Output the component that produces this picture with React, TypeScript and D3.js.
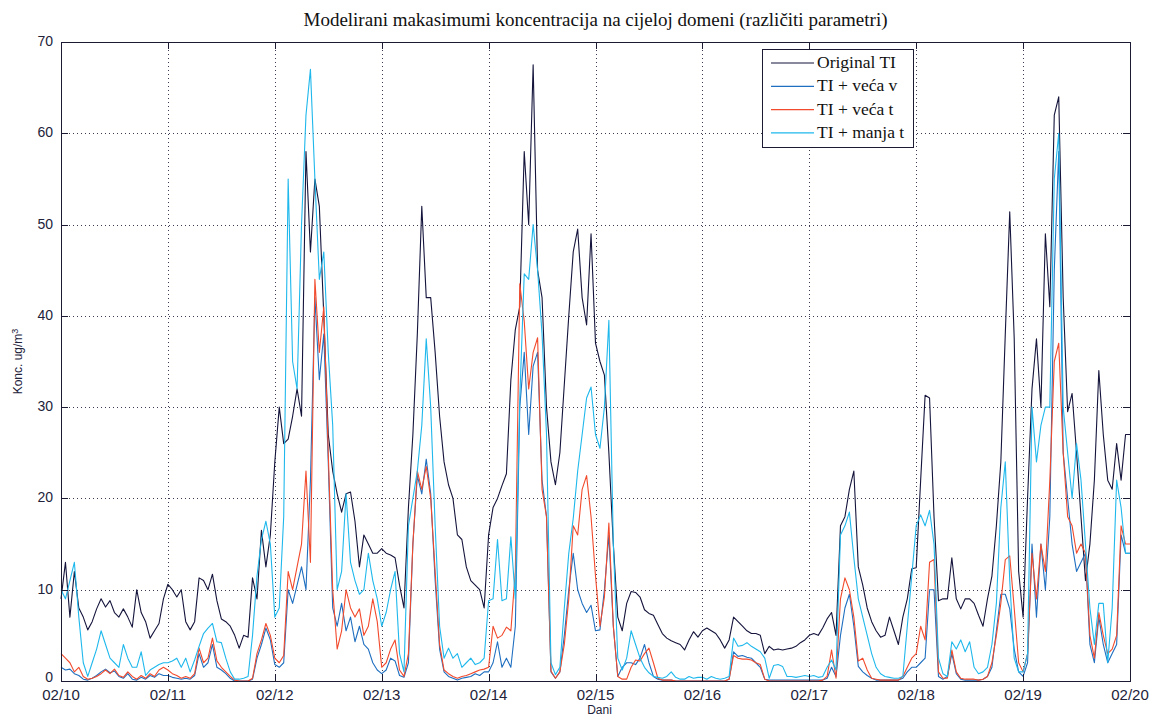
import React from "react";
import * as d3 from "d3";

const DAY_LABELS = ["02/10", "02/11", "02/12", "02/13", "02/14", "02/15", "02/16", "02/17", "02/18", "02/19", "02/20"];
const Y_TICKS = [0, 10, 20, 30, 40, 50, 60, 70];
const SERIES_NAMES = ["Original TI", "TI + veća v", "TI + veća t", "TI + manja t"];

// hourly maxima, 02/10 00h .. 02/20 00h
const ORIGINAL = [
  9, 13, 7, 12, 8, 7, 5.6, 6.5, 7.9, 9, 8.1, 8.8, 7.5, 7, 7.9, 7, 5.9, 10, 7.5, 6.5, 4.7, 5.5, 6.3, 9,
  10.6, 10, 9.2, 10, 6.5, 5.6, 6.5, 11.3, 11, 10, 11.7, 8.8, 6.8, 6.5, 6, 5, 3.6, 5, 4.8, 11.3, 9, 16.5, 12.5, 16,
  24, 30, 26, 26.5, 29, 32, 29, 58, 47, 55, 52, 40, 27, 23, 20.5, 18.5, 20.5, 20.7, 17.5, 12.5, 16, 15, 14, 14,
  14.5, 14, 13.8, 13.5, 10.5, 8, 19, 27, 38, 52, 42, 42, 36, 29, 24, 21.5, 20, 16, 15.5, 12.5, 11, 10.5, 10, 8,
  16, 19, 20, 21.4, 22.7, 33, 38.5, 41, 58, 50, 67.5, 45, 42, 30, 24, 21.5, 25, 32.5, 40, 47, 49.5, 42, 39, 49,
  37, 35, 33.5, 25, 15, 7, 5.5, 8.5, 9.8, 9.7, 9.2, 7.8, 7.4, 7.2, 6.2, 5.2, 4.7, 4.4, 4.2, 4, 3.4, 4.5, 5.4, 4.8,
  5.5, 5.8, 5.5, 5.2, 4.5, 3.6, 4.5, 7, 6.5, 6, 5.5, 5.2, 5.2, 5, 3, 3.8, 3.4, 3.5, 3.4, 3.5, 3.6, 3.8, 4.2, 4.5,
  5, 5.2, 5, 5.8, 6.8, 7.5, 5, 17, 18, 21, 23, 12.5, 10.5, 8, 6.5, 5.5, 4.8, 5, 7, 5.5, 4, 7, 9, 12.3,
  12.4, 22, 31.3, 31, 18, 8.8, 9, 9, 13.5, 9, 7.9, 9, 9, 8.5, 7.2, 6, 9, 11.5, 17, 24, 38, 51.4, 37.6, 12,
  7, 20, 32, 37.5, 30, 49, 41, 62, 64, 42, 29.5, 31.5, 25, 18, 11, 15, 22, 34, 27, 22, 21, 26, 22, 27,
  27,
];

const VECA_V = [
  1.5, 1.2, 1.3, 0.8, 0.6, 0.2, 0.1, 0.3, 0.6, 1, 1.3, 0.9, 1.1, 0.5, 0.3, 0.8, 0.2, 0.1, 0.4, 0.2, 0.6, 0.4, 0.8, 0.6,
  0.6, 0.4, 0.3, 0.2, 0.3, 0.2, 0.6, 3, 1.5, 2, 4, 1.5, 1.2, 0.8, 0.3, 0, 0, 0, 0, 0.2, 2.5, 4, 5.8, 4.5,
  1.8, 1.5, 2, 10, 8.5, 10.5, 12.5, 10, 22, 42, 33, 38, 24, 8, 6, 8.5, 5.5, 7, 4.3, 6, 4, 3.5, 2, 1.2,
  0.8, 1.2, 2.5, 2.2, 0.6, 0.4, 2, 15, 22.5, 20.5, 24.3, 20.5, 11, 3.5, 1, 0.5, 0.3, 0.1, 0.3, 0.4, 0.5, 0.8, 0.6, 1,
  1, 2, 4.3, 1.5, 2.5, 1.5, 6, 30, 36, 27, 34.5, 36, 22, 18, 1, 0.3, 1, 5, 10, 14, 10, 8.5, 7.5, 8.3,
  5.5, 5.6, 10, 16, 6, 0.5, 1.5, 2, 2, 1.8, 2.5, 4, 2, 0.5, 0.2, 0.1, 0.1, 0.1, 0, 0, 0, 0, 0, 0,
  0, 0, 0, 0, 0, 0, 0.2, 3.2, 2.7, 2.8, 2.6, 2.5, 2, 1.5, 0.2, 0.1, 0.1, 0.1, 0.1, 0.1, 0.1, 0.1, 0.1, 0.1,
  0.1, 0.1, 0.1, 0.1, 0.3, 1.5, 0.5, 5, 8, 9.5, 6, 1.6, 1, 0.6, 0.3, 0.1, 0.1, 0.1, 0.1, 0.1, 0.1, 0.3, 1, 1.5,
  1.5, 2, 2.5, 10, 10, 0.5, 0.2, 0.5, 3, 0.8, 0.2, 0.1, 0.1, 0.1, 0.1, 0.2, 0.5, 1.5, 5.5, 9.5, 9.5, 7.9, 3.5, 1,
  0.5, 2, 15, 7, 15, 10, 18, 45, 58, 25, 20, 15, 12, 13, 14, 4, 2, 7, 4, 2, 3, 4, 16, 14,
  14,
];

const VECA_T = [
  3, 2.5, 2, 1, 1.5, 0.5, 0.2, 0.3, 0.5, 0.8, 1.2, 0.8, 1.3, 0.6, 0.4, 1, 0.5, 0.2, 0.6, 0.3, 0.8, 0.5, 1.2, 1.5,
  1.2, 0.8, 0.6, 0.3, 0.5, 0.3, 0.8, 3.6, 2, 2.5, 4.7, 2.2, 1.5, 1, 0.5, 0.1, 0, 0, 0, 0.3, 3, 4.5, 6.3, 5,
  2.5, 2, 2.8, 12, 10, 12.5, 15, 23, 13, 44, 36, 41, 25, 10, 3.5, 5.5, 10, 8, 7, 7.9, 5, 6, 9, 6.5,
  1.5, 2, 3.5, 4.5, 1.2, 0.5, 3, 15, 23, 21, 23.5, 20, 12, 4, 1.2, 0.8, 0.5, 0.3, 0.5, 0.6, 0.8, 1, 1.2, 1.3,
  1.5, 6, 4.7, 5, 5.9, 5.5, 12, 43.5, 39.4, 32, 36, 37.6, 21, 18, 1.1, 0.3, 1, 4, 9, 17, 16, 21, 22.5, 18,
  11.5, 6, 9.2, 17.3, 6, 0.5, 0.2, 0.2, 1.5, 2.3, 2.2, 3, 3.6, 2, 0.3, 0.1, 0.1, 0.1, 0, 0, 0, 0, 0, 0,
  0, 0, 0, 0, 0, 0, 0.2, 2.8, 2.5, 2.4, 2.4, 2.3, 2, 1.8, 0.2, 0, 0, 0, 0, 0, 0, 0, 0, 0,
  0, 0, 0, 0.1, 0.5, 3.4, 0.3, 9, 11.3, 10, 7, 2.2, 2.5, 1.2, 0.3, 0.2, 0.1, 0.1, 0.1, 0.1, 0.1, 0.5, 1.5, 2.5,
  3, 6, 4.5, 13, 13.3, 1, 0.3, 0.3, 3.4, 1, 0.3, 0.2, 0.2, 0.2, 0.1, 0.2, 0.5, 2, 5, 8.5, 13.3, 13.7, 8, 2,
  1, 3, 14, 9, 15, 12, 22, 35, 37, 25, 18, 17, 14, 15, 14, 5, 2.5, 7.5, 5, 3, 3.5, 5, 17, 15,
  15,
];

const MANJA_T = [
  10, 9, 11, 13, 7, 2, 0.5, 2, 3.5, 5.5, 4, 2.5, 2, 1.5, 4, 2.5, 1.5, 1.5, 3.2, 0.6, 1.2, 1.5, 1.8, 2,
  2, 2.2, 2.5, 1.5, 2.5, 1, 2.3, 3.8, 5.2, 5.8, 6.3, 4.3, 4.2, 2.5, 1, 0.2, 0.2, 0.3, 0.5, 5, 11.5, 15.5, 17.5, 15,
  7, 8, 18, 55, 35, 32, 50, 62, 67, 55, 44, 47, 36, 28, 10, 12, 20.5, 13, 11, 9.5, 10, 14, 11, 9,
  6, 7.5, 10, 12, 3, 1, 17, 20, 23, 28, 37.5, 30, 17, 6, 2.5, 3.6, 2.5, 3, 1.5, 2, 2.5, 1.8, 2, 2.5,
  8.8, 9, 15.5, 8.8, 9, 15.8, 9, 31, 44.6, 44, 50, 45, 38, 27, 2, 0.7, 1.5, 8, 14, 17.8, 23, 27, 31, 32.2,
  27, 25.5, 30, 39.5, 15, 2.5, 1.2, 2.5, 5.5, 4, 2.5, 1.5, 0.9, 0.5, 0.4, 0.3, 0.5, 1, 0.4, 0.2, 0.2, 0.5, 0.3, 0.4,
  0.4, 0.2, 0.5, 0.3, 0.2, 0.3, 0.5, 4.7, 3.8, 3.9, 4.2, 3.8, 3.5, 3.2, 2.5, 0.3, 1.7, 1.8, 1.6, 0.5, 0.5, 0.4, 0.5, 0.6,
  0.5, 0.6, 0.4, 0.5, 1.5, 2.3, 1.2, 16, 17, 18.5, 13.5, 9, 7, 5, 3, 1.5, 0.8, 0.5, 0.4, 0.3, 0.3, 0.5, 6, 11.5,
  17, 18.2, 17, 18.7, 15, 2.5, 0.8, 0.5, 4.3, 3.5, 4.5, 3.2, 4.3, 1.5, 0.8, 1, 1.5, 4, 8.5, 19, 24, 11, 2.5, 1,
  1, 3, 30, 24, 28, 30, 30, 55, 60, 30, 25, 20, 26, 22, 15, 8, 4, 8.5, 8.5, 2, 8, 22, 19, 14,
  14,
];

const SERIES = [
  { name: SERIES_NAMES[0], values: ORIGINAL, color: "#14143c" },
  { name: SERIES_NAMES[1], values: VECA_V, color: "#1f6fc0" },
  { name: SERIES_NAMES[2], values: VECA_T, color: "#f24a2c" },
  { name: SERIES_NAMES[3], values: MANJA_T, color: "#1fb8ec" },
];

const W = 1156;
const H = 718;
const M = { left: 61, right: 1130, top: 42, bottom: 681 };
const AXIS_COLOR = "#1a1a33";
const SANS = "'Liberation Sans', Arial, sans-serif";
const SERIF = "'Liberation Serif', 'Times New Roman', serif";

export default function App() {
  const nHours = ORIGINAL.length - 1;
  const x = d3.scaleLinear().domain([0, nHours]).range([M.left, M.right]);
  const y = d3.scaleLinear().domain([0, 70]).range([M.bottom, M.top]);
  const line = d3
    .line<number>()
    .x((_, i) => x(i))
    .y((v) => y(v));
  const dayStep = nHours / (DAY_LABELS.length - 1);
  const dayTicks = DAY_LABELS.map((_, i) => i * dayStep);

  const legend = { x: 762, y: 49, w: 151, h: 98 };

  return (
    <div style={{ position: "absolute", left: 0, top: 0 }}>
      <svg width={W} height={H} style={{ display: "block", background: "#fff" }}>
        <rect x={0} y={0} width={W} height={H} fill="#fff" />
        {/* grid */}
        <g stroke="#3a3a50" strokeWidth={1} strokeDasharray="1,3" shapeRendering="crispEdges">
          {dayTicks.slice(1, -1).map((t) => (
            <line key={"gx" + t} x1={Math.round(x(t)) + 0.5} x2={Math.round(x(t)) + 0.5} y1={M.top} y2={M.bottom} />
          ))}
          {Y_TICKS.slice(1, -1).map((v) => (
            <line key={"gy" + v} x1={M.left} x2={M.right} y1={Math.round(y(v)) + 0.5} y2={Math.round(y(v)) + 0.5} />
          ))}
        </g>
        {/* series */}
        <g fill="none" strokeWidth={1.1} strokeLinejoin="round">
          {SERIES.map((s) => (
            <path key={s.name} d={line(s.values) || ""} stroke={s.color} />
          ))}
        </g>
        {/* axes box */}
        <rect
          x={M.left + 0.5}
          y={M.top + 0.5}
          width={M.right - M.left}
          height={M.bottom - M.top}
          fill="none"
          stroke={AXIS_COLOR}
          strokeWidth={1}
          shapeRendering="crispEdges"
        />
        {/* ticks */}
        <g stroke={AXIS_COLOR} strokeWidth={1} shapeRendering="crispEdges">
          {dayTicks.map((t) => (
            <g key={"tx" + t}>
              <line x1={Math.round(x(t)) + 0.5} x2={Math.round(x(t)) + 0.5} y1={M.bottom} y2={M.bottom - 7} />
              <line x1={Math.round(x(t)) + 0.5} x2={Math.round(x(t)) + 0.5} y1={M.top} y2={M.top + 7} />
            </g>
          ))}
          {Y_TICKS.map((v) => (
            <g key={"ty" + v}>
              <line x1={M.left} x2={M.left + 7} y1={Math.round(y(v)) + 0.5} y2={Math.round(y(v)) + 0.5} />
              <line x1={M.right} x2={M.right - 7} y1={Math.round(y(v)) + 0.5} y2={Math.round(y(v)) + 0.5} />
            </g>
          ))}
        </g>
        {/* tick labels */}
        <g fontFamily={SANS} fill="#22223a">
          {dayTicks.map((t, i) => (
            <text key={"lx" + t} x={x(t)} y={M.bottom + 19} textAnchor="middle" fontSize={15}>
              {DAY_LABELS[i]}
            </text>
          ))}
          {Y_TICKS.map((v) => (
            <text key={"ly" + v} x={M.left - 8} y={y(v) + (v === 0 ? 1 : 4)} textAnchor="end" fontSize={14}>
              {v}
            </text>
          ))}
        </g>
        {/* axis titles */}
        <text x={(M.left + M.right) / 2 + 4} y={714} textAnchor="middle" fontFamily={SANS} fontSize={12} fill="#22223a">
          Dani
        </text>
        <text
          transform={`translate(22, ${(M.top + M.bottom) / 2}) rotate(-90)`}
          textAnchor="middle"
          fontFamily={SANS}
          fontSize={12}
          fill="#22223a"
        >
          Konc. ug/m<tspan dy={-4} fontSize={9}>3</tspan>
        </text>
        {/* title */}
        <text x={(M.left + M.right) / 2} y={26} textAnchor="middle" fontFamily={SERIF} fontSize={19} fill="#111">
          Modelirani makasimumi koncentracija na cijeloj domeni (različiti parametri)
        </text>
        {/* legend */}
        <g>
          <rect
            x={legend.x + 0.5}
            y={legend.y + 0.5}
            width={legend.w}
            height={legend.h}
            fill="#fff"
            stroke={AXIS_COLOR}
            strokeWidth={1}
            shapeRendering="crispEdges"
          />
          {SERIES.map((s, i) => {
            const ly = legend.y + 14 + i * 23.3;
            return (
              <g key={"lg" + s.name}>
                <line x1={legend.x + 9} x2={legend.x + 52} y1={ly} y2={ly} stroke={s.color} strokeWidth={1.2} />
                <text x={legend.x + 55} y={ly + 5} fontFamily={SERIF} fontSize={17.5} fill="#111">
                  {s.name}
                </text>
              </g>
            );
          })}
        </g>
      </svg>
    </div>
  );
}
